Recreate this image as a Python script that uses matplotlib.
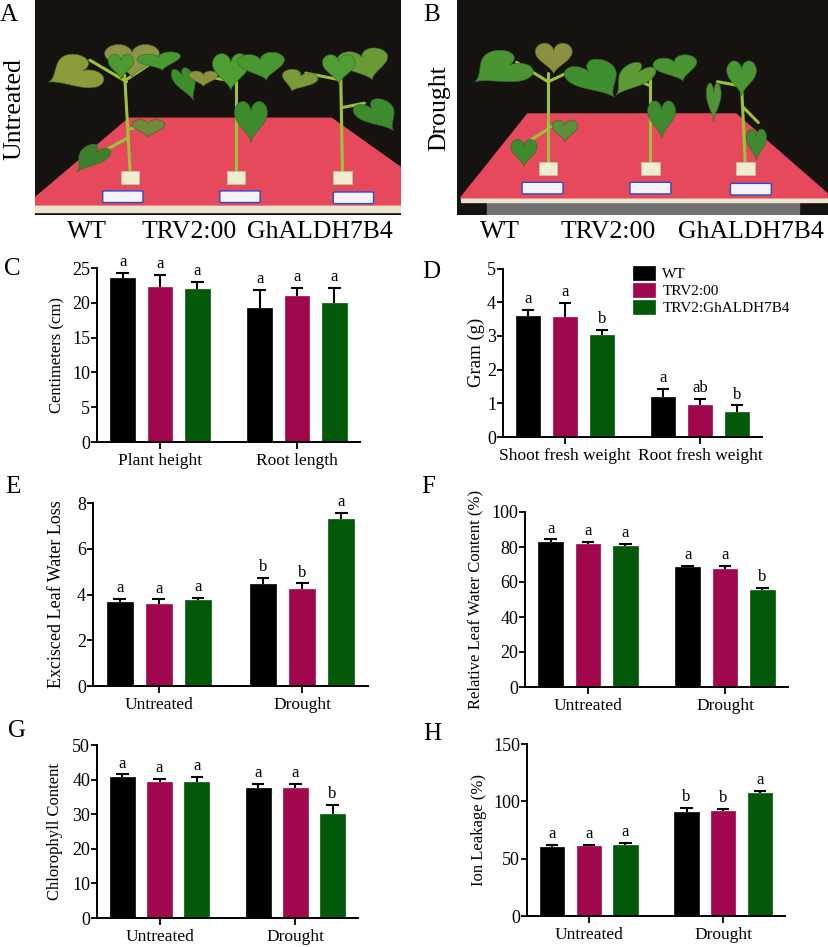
import numpy as np
import matplotlib
matplotlib.use('Agg')
import matplotlib.pyplot as plt
from matplotlib import font_manager
from matplotlib.patches import Polygon, Rectangle, FancyBboxPatch

# pick a Times-like serif that is really installed
installed = {f.name for f in font_manager.fontManager.ttflist}
serif_pick = [n for n in ['Liberation Serif', 'Times New Roman', 'Nimbus Roman',
                          'Noto Serif', 'DejaVu Serif'] if n in installed]
plt.rcParams['font.family'] = 'serif'
plt.rcParams['font.serif'] = serif_pick + ['DejaVu Serif']

W, H = 829, 947

# ---- data ----
genotypes = ['WT', 'TRV2:00', 'TRV2:GhALDH7B4']
colors = ['#000000', '#a0074d', '#02590a']

c_groups = ['Plant height', 'Root length']
c_mean = [[23.6, 22.3, 22.0], [19.3, 21.0, 20.0]]
c_top = [[24.3, 24.0, 23.0], [21.8, 22.1, 22.1]]
c_sig = [['a', 'a', 'a'], ['a', 'a', 'a']]

d_groups = ['Shoot fresh weight', 'Root fresh weight']
d_mean = [[3.58, 3.57, 3.04], [1.2, 0.96, 0.75]]
d_top = [[3.77, 3.97, 3.18], [1.43, 1.12, 0.94]]
d_sig = [['a', 'a', 'b'], ['a', 'ab', 'b']]

treat = ['Untreated', 'Drought']

e_mean = [[3.69, 3.59, 3.78], [4.46, 4.23, 7.32]]
e_top = [[3.82, 3.79, 3.85], [4.71, 4.49, 7.58]]
e_sig = [['a', 'a', 'a'], ['b', 'b', 'a']]

f_mean = [[83.0, 81.5, 80.8], [68.4, 67.2, 55.4]]
f_top = [[84.4, 82.8, 81.9], [69.3, 69.1, 56.6]]
f_sig = [['a', 'a', 'a'], ['a', 'a', 'b']]

g_mean = [[40.8, 39.2, 39.4], [37.5, 37.5, 30.0]]
g_top = [[41.5, 40.1, 40.7], [38.7, 38.8, 32.7]]
g_sig = [['a', 'a', 'a'], ['a', 'a', 'b']]

h_mean = [[60.5, 60.8, 61.7], [91.0, 91.3, 107.3]]
h_top = [[61.7, 62.2, 64.0], [94.2, 93.6, 109.0]]
h_sig = [['a', 'a', 'a'], ['b', 'b', 'a']]

photo_names = ['WT', 'TRV2:00', 'GhALDH7B4']


def px_rect(l, t, r, b):
    return [l / W, 1 - b / H, (r - l) / W, (b - t) / H]


fig = plt.figure(figsize=(W / 100, H / 100), dpi=100)


# ---- photos (drawn sketch) ----
def leaf_shape(cx, cy, w, h, ang):
    # heart-like leaf, tip pointing down before rotation
    t = np.linspace(0, 2 * np.pi, 60)
    x = np.sin(t) ** 3
    y = (13 * np.cos(t) - 5 * np.cos(2 * t) - 2 * np.cos(3 * t) - np.cos(4 * t)) / 16
    x = x * w / 2
    y = y * h / 2
    a = np.deg2rad(ang)
    xr = x * np.cos(a) - y * np.sin(a)
    yr = x * np.sin(a) + y * np.cos(a)
    return np.column_stack([cx + xr, cy + yr])


def draw_photo(ax, board, strip, base, pots, tags, stems, leaves):
    ax.set_xlim(0, 1)
    ax.set_ylim(0, 1)
    ax.axis('off')
    ax.add_patch(Rectangle((0, 0), 1, 1, color='#151210', zorder=0))
    if base:
        ax.add_patch(Rectangle(base[0], base[1], base[2], color='#707073', zorder=1))
    ax.add_patch(Polygon(strip, closed=True, color='#ebe4cf', zorder=1))
    ax.add_patch(Polygon(board, closed=True, color='#e6485c', zorder=2))
    for (x0, y0, x1, y1) in stems:
        ax.plot([x0, x1], [y0, y1], color='#9cc23a', lw=2.2, zorder=3,
                solid_capstyle='round')
    for (cx, cy, w, h, ang, col) in leaves:
        ax.add_patch(Polygon(leaf_shape(cx, cy, w, h, ang), closed=True, facecolor=col,
                             edgecolor='#2f6a22', lw=0.4, zorder=4))
    for (cx, cy) in pots:
        ax.add_patch(Rectangle((cx - 0.025, cy - 0.03), 0.05, 0.06,
                               facecolor='#efeccf', edgecolor='#c9c4a6', lw=0.5, zorder=5))
    for (cx, cy) in tags:
        ax.add_patch(FancyBboxPatch((cx - 0.05, cy - 0.022), 0.1, 0.044,
                                    boxstyle='round,pad=0.005', facecolor='#f4f4f8',
                                    edgecolor='#2a4bd0', lw=1.0, zorder=5))


axA = fig.add_axes(px_rect(35, 0, 401, 215))
draw_photo(
    axA,
    board=[(0.257, 0.45), (0.81, 0.45), (1.0, 0.22), (1.0, 0.047), (0.0, 0.047), (0.0, 0.08)],
    strip=[(0.0, 0.016), (1.0, 0.016), (1.0, 0.05), (0.0, 0.05)],
    base=None,
    pots=[(0.26, 0.175), (0.55, 0.175), (0.84, 0.175)],
    tags=[(0.24, 0.085), (0.56, 0.085), (0.87, 0.08)],
    stems=[(0.26, 0.2, 0.245, 0.65), (0.25, 0.62, 0.15, 0.72), (0.255, 0.36, 0.18, 0.29),
           (0.26, 0.4, 0.32, 0.43), (0.25, 0.63, 0.33, 0.72),
           (0.55, 0.2, 0.55, 0.64), (0.55, 0.62, 0.48, 0.64),
           (0.84, 0.2, 0.835, 0.68), (0.84, 0.5, 0.9, 0.52), (0.83, 0.63, 0.74, 0.66)],
    leaves=[(0.11, 0.66, 0.17, 0.16, -60, '#8c9a3c'), (0.265, 0.73, 0.15, 0.17, 0, '#8f9445'),
            (0.235, 0.70, 0.07, 0.13, 0, '#4c9a30'), (0.34, 0.72, 0.12, 0.09, 10, '#4a9a32'),
            (0.41, 0.62, 0.06, 0.17, 15, '#3f8e2c'), (0.155, 0.27, 0.08, 0.15, -30, '#3d7f2c'),
            (0.31, 0.41, 0.09, 0.09, 0, '#6f8a3a'),
            (0.46, 0.64, 0.08, 0.08, 0, '#8e9040'), (0.535, 0.68, 0.1, 0.19, 0, '#4f9e34'),
            (0.62, 0.70, 0.13, 0.14, 10, '#4a9632'), (0.59, 0.45, 0.09, 0.21, 0, '#3e8a2e'),
            (0.72, 0.63, 0.1, 0.11, -20, '#7d9a3a'), (0.90, 0.71, 0.14, 0.16, 15, '#6a9a36'),
            (0.83, 0.69, 0.09, 0.15, 0, '#4f9e34'), (0.935, 0.47, 0.11, 0.17, 30, '#3e8a2e')])

axB = fig.add_axes(px_rect(457, 0, 829, 215))
draw_photo(
    axB,
    board=[(0.19, 0.47), (0.75, 0.47), (0.995, 0.1), (0.995, 0.08), (0.01, 0.08)],
    strip=[(0.01, 0.06), (0.995, 0.06), (0.995, 0.08), (0.01, 0.08)],
    base=[(0.08, 0.0), 0.84, 0.06],
    pots=[(0.245, 0.215), (0.52, 0.215), (0.775, 0.215)],
    tags=[(0.23, 0.125), (0.52, 0.125), (0.79, 0.12)],
    stems=[(0.245, 0.24, 0.245, 0.66), (0.245, 0.62, 0.16, 0.71), (0.245, 0.62, 0.32, 0.68),
           (0.245, 0.4, 0.19, 0.34), (0.245, 0.41, 0.29, 0.42),
           (0.52, 0.24, 0.52, 0.66), (0.52, 0.6, 0.47, 0.64),
           (0.775, 0.24, 0.765, 0.6), (0.77, 0.5, 0.81, 0.43), (0.765, 0.6, 0.7, 0.62)],
    leaves=[(0.12, 0.68, 0.16, 0.18, -50, '#4a9434'), (0.26, 0.74, 0.1, 0.16, 0, '#8c8f42'),
            (0.37, 0.64, 0.14, 0.2, 30, '#3f8f30'), (0.18, 0.30, 0.07, 0.14, 0, '#3f8a2e'),
            (0.29, 0.40, 0.07, 0.11, 0, '#5e8e3a'),
            (0.475, 0.64, 0.09, 0.18, -30, '#5c9a36'), (0.59, 0.69, 0.12, 0.13, 15, '#4a9432'),
            (0.55, 0.46, 0.075, 0.19, 0, '#3e8a2e'),
            (0.765, 0.65, 0.08, 0.18, 0, '#4a9634'), (0.69, 0.54, 0.04, 0.2, 0, '#4f9436'),
            (0.805, 0.34, 0.055, 0.16, 0, '#3f8a2e')])

for x, name in zip([87, 189, 320], photo_names):
    fig.text(x / W, 1 - 232 / H, name, ha='center', va='center', fontsize=18.5)
for x, name in zip([500, 608, 751], photo_names):
    fig.text(x / W, 1 - 232 / H, name, ha='center', va='center', fontsize=18.5)
fig.text(14 / W, 1 - 109 / H, 'Untreated', rotation=90, ha='center', va='center', fontsize=18.5)
fig.text(439 / W, 1 - 108 / H, 'Drought', rotation=90, ha='center', va='center', fontsize=18.5)


# ---- bar panels ----
step, bw = 0.273, 0.18


def bar_panel(rect, groups, mean, top, sig, ymax, ystep, ylabel, lab_x, lab_fs=12,
              legend=False):
    ax = fig.add_axes(px_rect(*rect))
    mean = np.array(mean)
    top = np.array(top)
    for j in range(3):
        xs = np.arange(len(groups)) + (j - 1) * step
        ax.bar(xs, mean[:, j], width=bw, color=colors[j], edgecolor=colors[j],
               lw=0.5, zorder=2, label=genotypes[j])
        ax.vlines(xs, mean[:, j], top[:, j], color='black', lw=1.5, zorder=1)
        ax.hlines(top[:, j], xs - 0.045, xs + 0.045, color='black', lw=1.5, zorder=3)
        for k in range(len(groups)):
            ax.annotate(sig[k][j], (xs[k], top[k, j]), xytext=(0, 2),
                        textcoords='offset points', ha='center', va='bottom',
                        fontsize=12, annotation_clip=False)
    ax.set_xlim(-0.46, 1.46)
    ax.set_ylim(0, ymax)
    ax.set_yticks(np.arange(0, ymax + ystep / 2, ystep))
    ax.set_xticks(range(len(groups)))
    ax.set_xticklabels(groups, fontsize=12.5)
    ax.tick_params(axis='y', labelsize=13, width=1.3, length=4, pad=1)
    ax.tick_params(axis='x', width=1.3, length=5, pad=3)
    for s in ['top', 'right']:
        ax.spines[s].set_visible(False)
    for s in ['left', 'bottom']:
        ax.spines[s].set_linewidth(1.4)
    ax.set_ylabel(ylabel, fontsize=lab_fs)
    ax.yaxis.set_label_coords(lab_x, 0.5)
    if legend:
        ax.legend(loc='upper left', bbox_to_anchor=(0.48, 1.05), frameon=False,
                  fontsize=11, handlelength=1.4, handleheight=1.0,
                  handletextpad=0.5, labelspacing=0.12, borderaxespad=0)
    return ax


bar_panel((97, 268, 360, 442), c_groups, c_mean, c_top, c_sig, 25, 5,
          'Centimeters (cm)', -0.12)
bar_panel((503, 268.5, 762, 437), d_groups, d_mean, d_top, d_sig, 5, 1,
          'Gram (g)', -0.07, lab_fs=13.5, legend=True)
bar_panel((93, 503, 368, 686), treat, e_mean, e_top, e_sig, 8, 2,
          'Excisced Leaf Water Loss', -0.10, lab_fs=13)
bar_panel((525, 512, 788, 687), treat, f_mean, f_top, f_sig, 100, 20,
          'Relative Leaf Water Content (%)', -0.16)
bar_panel((97, 745, 358, 918), treat, g_mean, g_top, g_sig, 50, 10,
          'Chlorophyll Content', -0.13)
bar_panel((527, 744, 785, 916), treat, h_mean, h_top, h_sig, 150, 50,
          'Ion Leakage (%)', -0.155)

# panel letters
for letter, x, y in [('A', 9, 15), ('B', 432, 15), ('C', 12, 269), ('D', 431, 272),
                     ('E', 13, 487), ('F', 428, 487), ('G', 17, 731), ('H', 432, 734)]:
    fig.text(x / W, 1 - y / H, letter, ha='center', va='center', fontsize=18)

fig.savefig('out.png', dpi=100)
